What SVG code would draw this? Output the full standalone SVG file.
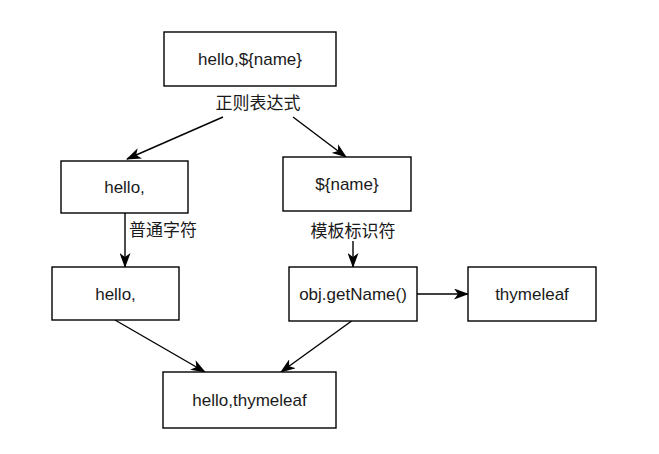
<svg xmlns="http://www.w3.org/2000/svg" width="659" height="454" viewBox="0 0 659 454">
<style>
.box{fill:#fff;stroke:#000;stroke-width:1.4}
.t{font-family:"Liberation Sans",Arial,"Noto Sans CJK SC",sans-serif;font-size:17px;fill:#1a1a1a;text-anchor:middle}
.lbl{font-family:"Noto Sans CJK SC","Liberation Sans",sans-serif;font-size:17px;fill:#1a1a1a;text-anchor:middle}
.e{fill:none;stroke:#000;stroke-width:1.4;marker-end:url(#arr)}
</style>
<defs>
<marker id="arr" viewBox="0 0 15 11" refX="14" refY="5.5" markerWidth="15" markerHeight="11" markerUnits="userSpaceOnUse" orient="auto">
<path d="M0,0 L15,5.5 L0,11 L4,5.5 z" fill="#000"/>
</marker>
</defs>
<rect width="659" height="454" fill="#fff"/>
<g id="connectors">
<path class="e" d="M223,117 L127,159"/>
<path class="e" d="M293,117 L346,157"/>
<path class="e" d="M125,213 L125,267"/>
<path class="e" d="M353,241 L353,267"/>
<path class="e" d="M417,294 L468,294"/>
<path class="e" d="M115,320 L205,372"/>
<path class="e" d="M353,320 L281,372"/>
<text class="lbl" x="258" y="109">正则表达式</text>
<text class="lbl" x="163" y="236">普通字符</text>
<text class="lbl" x="353" y="237">模板标识符</text>
</g>
<g id="n-source"><rect class="box" x="164" y="32" width="172" height="54"/><text class="t" x="250" y="65">hello,${name}</text></g>
<g id="n-hello1"><rect class="box" x="61" y="161" width="127" height="52"/><text class="t" x="124.5" y="193">hello,</text></g>
<g id="n-name"><rect class="box" x="283" y="157" width="128" height="54"/><text class="t" x="347" y="190">${name}</text></g>
<g id="n-hello2"><rect class="box" x="52" y="267" width="127" height="53"/><text class="t" x="115.5" y="300">hello,</text></g>
<g id="n-getname"><rect class="box" x="289" y="267" width="128" height="54"/><text class="t" x="353" y="300">obj.getName()</text></g>
<g id="n-thymeleaf"><rect class="box" x="468" y="267" width="128" height="54"/><text class="t" x="532" y="300">thymeleaf</text></g>
<g id="n-result"><rect class="box" x="163" y="372" width="173" height="56"/><text class="t" x="249.5" y="406">hello,thymeleaf</text></g>
</svg>
